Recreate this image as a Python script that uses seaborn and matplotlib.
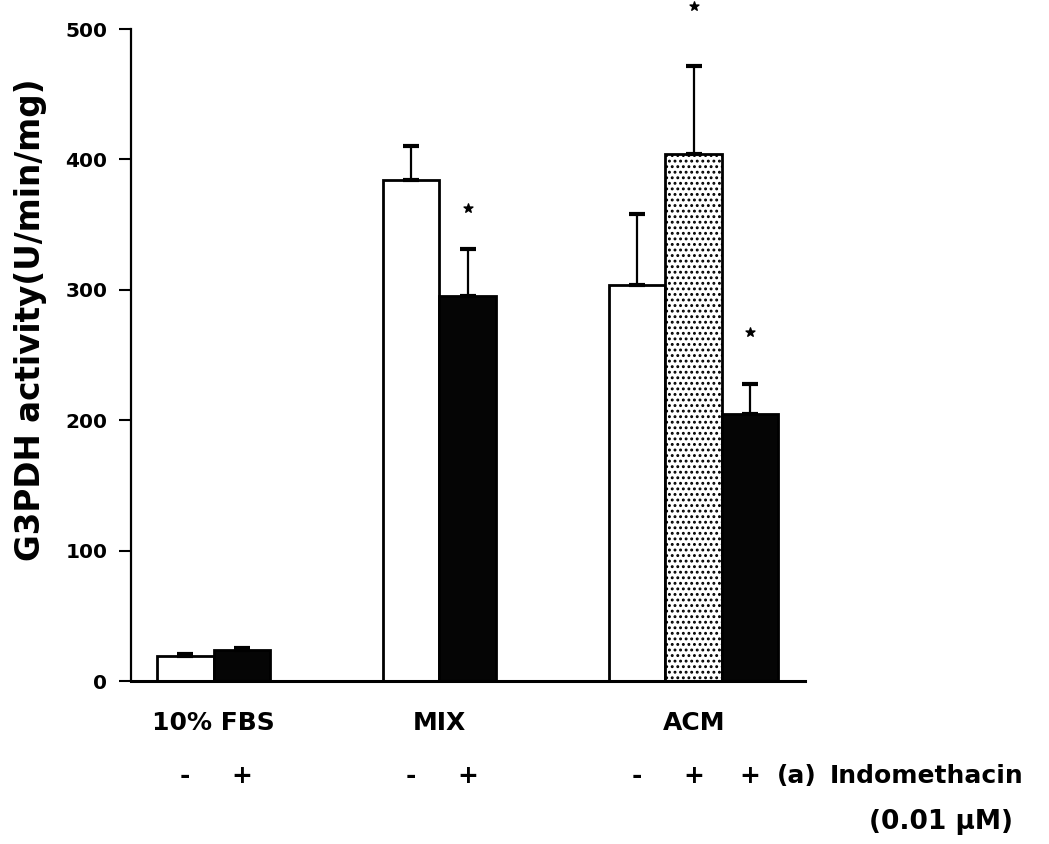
import matplotlib
matplotlib.use("Agg")
import matplotlib.pyplot as plt
import seaborn as sns
import pandas as pd

# bar slots (gaps between the three culture groups)
positions = [0, 1, 4, 5, 8, 9, 10]
activity = [19, 24, 384, 295, 304, 404, 205]
error_top = [21, 25, 410, 331, 358, 472, 228]
fills = ["white", "black", "white", "black", "white", "dots", "black"]

# significance marks
star_positions = [5, 9, 10]
star_values = [363, 518, 268]

groups = ["10% FBS", "MIX", "ACM"]
group_centers = [0.5, 4.5, 9]
signs = ["-", "+", "-", "+", "-", "+", "+"]
y_ticks = [0, 100, 200, 300, 400, 500]

sns.set_style("ticks")
plt.rcParams['font.family'] = ['DejaVu Sans']
plt.rcParams['font.weight'] = 'bold'
plt.rcParams['hatch.linewidth'] = 1.3
plt.rcParams['text.color'] = 'black'
plt.rcParams['axes.labelcolor'] = 'black'
plt.rcParams['ytick.color'] = 'black'
plt.rcParams['axes.edgecolor'] = 'black'

df = pd.DataFrame({"pos": positions, "activity": activity})

fig = plt.figure(figsize=(10.49, 8.44), dpi=100)
ax = fig.add_axes([0.1249, 0.1931, 0.6425, 0.7725])

sns.barplot(data=df, x="pos", y="activity", native_scale=True, width=1.0,
            errorbar=None, color="white", edgecolor="black", linewidth=2, ax=ax)

for patch, fill in zip(ax.patches, fills):
    if fill == "black":
        patch.set_facecolor("#050505")
    elif fill == "dots":
        patch.set_facecolor("white")
        patch.set_hatch("...")
    patch.set_edgecolor("black")
    patch.set_zorder(2)

# one-sided (upper) error bars
err_up = [t - a for t, a in zip(error_top, activity)]
ax.errorbar(positions, activity, yerr=[[0] * len(err_up), err_up], fmt="none",
            ecolor="black", elinewidth=1.6, capsize=5.5, capthick=3, zorder=3)

ax.scatter(star_positions, star_values, marker="*", s=45, color="black",
           zorder=4, clip_on=False)

ax.set_xlim(-0.96, 10.97)
ax.set_ylim(0, 500)
ax.set_yticks(y_ticks)
ax.set_yticklabels([str(t) for t in y_ticks], fontsize=14.5, fontweight="bold")
ax.set_xticks([])
ax.set_xlabel("")
ax.tick_params(axis="y", length=9, width=1.5, pad=8, direction="out")
sns.despine(ax=ax)
ax.spines["left"].set_linewidth(1.6)
ax.spines["bottom"].set_linewidth(2.2)

ax.set_ylabel("G3PDH activity(U/min/mg)", fontsize=23.5, fontweight="bold")
ax.yaxis.set_label_coords(-0.125, 0.554)

tr = ax.get_xaxis_transform()
for name, cx in zip(groups, group_centers):
    ax.text(cx, -0.064, name, transform=tr, ha="center", va="center",
            fontsize=18, fontweight="bold")
for s, px in zip(signs, positions):
    ax.text(px, -0.146, s, transform=tr, ha="center", va="center",
            fontsize=18, fontweight="bold")
ax.text(10.83, -0.146, "(a)", transform=tr, ha="center", va="center",
        fontsize=18, fontweight="bold")
ax.text(11.4, -0.146, "Indomethacin", transform=tr, ha="left", va="center",
        fontsize=18, fontweight="bold")
ax.text(12.1, -0.216, "(0.01 \u03bcM)", transform=tr, ha="left", va="center",
        fontsize=19, fontweight="bold")

fig.savefig("out.png", dpi=100)
